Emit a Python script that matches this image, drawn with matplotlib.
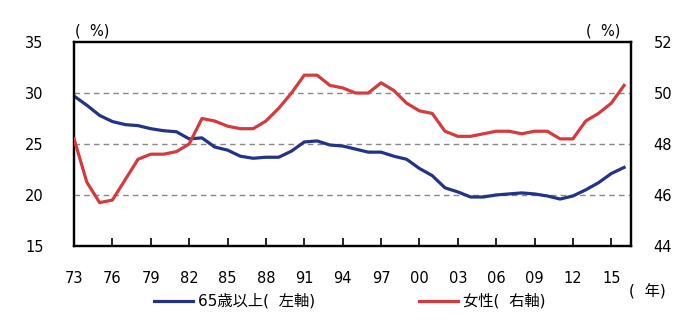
import numpy as np
import matplotlib.pyplot as plt
from matplotlib.lines import Line2D

# digits from DejaVu Sans, kanji fall back to the CJK face
plt.rcParams['font.family'] = ['DejaVu Sans', 'Noto Sans CJK JP']

years = np.arange(1973, 2017)

# 65歳以上の割合 (左軸, %)
over65 = [29.7, 28.8, 27.8, 27.2, 26.9, 26.8, 26.5, 26.3, 26.2, 25.5,
          25.6, 24.7, 24.4, 23.8, 23.6, 23.7, 23.7, 24.3, 25.2, 25.3,
          24.9, 24.8, 24.5, 24.2, 24.2, 23.8, 23.5, 22.6, 21.9, 20.7,
          20.3, 19.8, 19.8, 20.0, 20.1, 20.2, 20.1, 19.9, 19.6, 19.9,
          20.5, 21.2, 22.1, 22.7]

# 女性の割合 (右軸, %)
female = [48.2, 46.5, 45.7, 45.8, 46.6, 47.4, 47.6, 47.6, 47.7, 48.0,
          49.0, 48.9, 48.7, 48.6, 48.6, 48.9, 49.4, 50.0, 50.7, 50.7,
          50.3, 50.2, 50.0, 50.0, 50.4, 50.1, 49.6, 49.3, 49.2, 48.5,
          48.3, 48.3, 48.4, 48.5, 48.5, 48.4, 48.5, 48.5, 48.2, 48.2,
          48.9, 49.2, 49.6, 50.3]

tick_years = np.arange(1973, 2016, 3)
tick_labels = ['%02d' % (y % 100) for y in tick_years]

blue = '#223388'
red = '#d63a3c'
fs = 10.5
fs_jp = 11

fig = plt.figure(figsize=(6.92, 3.31), dpi=100)
ax = fig.add_axes([0.107, 0.257, 0.805, 0.616])
ax2 = ax.twinx()

for v in [20, 25, 30]:
    ax.axhline(v, color='#888888', lw=1.0, ls=(0, (4, 3)), zorder=1)

ax.plot(years, over65, color=blue, lw=2.3, zorder=3)
ax2.plot(years, female, color=red, lw=2.3, zorder=3)

ax.set_xlim(1973, 2016.55)
ax.set_ylim(15, 35)
ax2.set_ylim(44, 52)
ax.set_yticks(np.arange(15, 36, 5))
ax2.set_yticks(np.arange(44, 53, 2))
ax.set_xticks(tick_years)
ax.set_xticklabels(tick_labels)

ax.tick_params(axis='y', length=0, pad=22, labelsize=fs)
ax2.tick_params(axis='y', length=0, pad=16, labelsize=fs)
ax.tick_params(axis='x', direction='in', length=6, width=1.2, pad=18, labelsize=fs)

for a in (ax, ax2):
    for s in a.spines.values():
        s.set_linewidth(1.6)
        s.set_color('black')

fig.text(0.108, 0.905, '(  %)', fontsize=fs, ha='left', va='center')
fig.text(0.897, 0.905, '(  %)', fontsize=fs, ha='right', va='center')
fig.text(0.962, 0.117, '(  年)', fontsize=fs_jp, ha='right', va='center')

h1 = Line2D([], [], color=blue, lw=2.3)
h2 = Line2D([], [], color=red, lw=2.3)
fig.legend([h1], ['65歳以上(  左軸)'], loc='center left',
           bbox_to_anchor=(0.203, 0.09), frameon=False, fontsize=fs_jp,
           handlelength=2.55, handletextpad=0.3)
fig.legend([h2], ['女性(  右軸)'], loc='center left',
           bbox_to_anchor=(0.586, 0.09), frameon=False, fontsize=fs_jp,
           handlelength=2.55, handletextpad=0.3)

fig.savefig('out.png', dpi=100)
